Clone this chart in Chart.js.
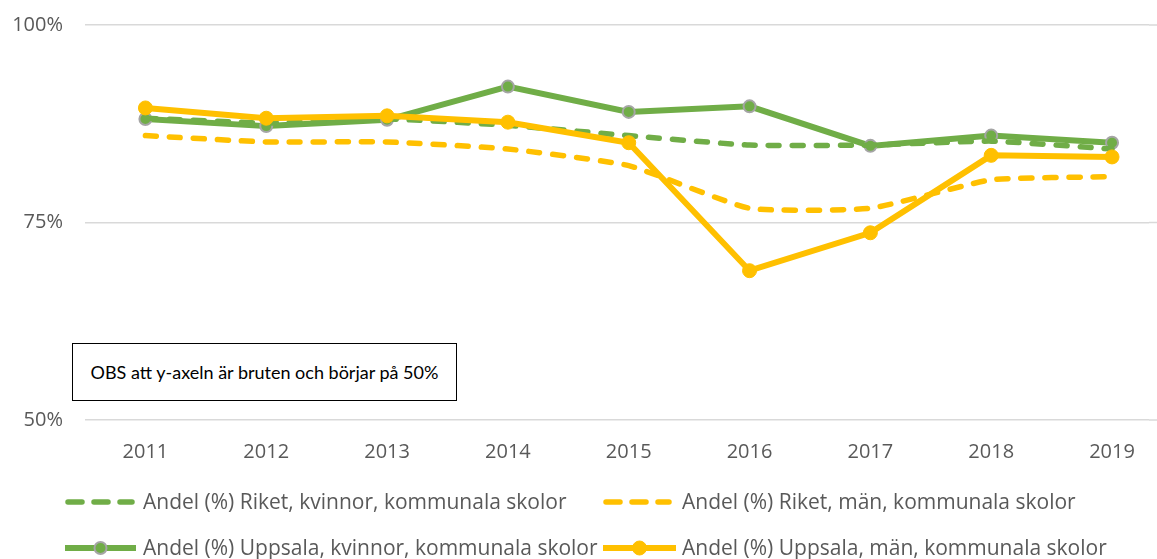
<!DOCTYPE html>
<html>
<head>
<meta charset="utf-8">
<script src="https://cdn.jsdelivr.net/npm/chart.js@4"></script>
<style>
  html, body { margin: 0; padding: 0; background: #fff; overflow: hidden; }
  #wrap { position: relative; width: 1157px; height: 559px; }
  #note {
    position: absolute; left: 72px; top: 343px; width: 383px; height: 56px;
    border: 1px solid #000; background: #fff; white-space: nowrap;
    font-family: Lato, sans-serif; font-size: 18px; color: #000;
    display: flex; align-items: center; justify-content: center;
  }
</style>
</head>
<body>
<div id="wrap">
  <canvas id="chart" width="1157" height="559"></canvas>
  <div id="note">OBS att y-axeln är bruten och börjar på 50%</div>
</div>
<script>
// years on the x axis
const years = [2011, 2012, 2013, 2014, 2015, 2016, 2017, 2018, 2019];

// share (%) per year
const riketKvinnor    = [88.2, 87.6, 88.1, 87.3, 86.0, 84.8, 84.8, 85.3, 84.3];
const riketMan        = [86.0, 85.2, 85.2, 84.3, 82.2, 76.8, 76.8, 80.4, 80.8];
const uppsalaKvinnor  = [88.1, 87.2, 88.0, 92.2, 89.0, 89.7, 84.7, 86.0, 85.1];
const uppsalaMan      = [89.5, 88.2, 88.5, 87.7, 85.1, 68.9, 73.7, 83.5, 83.3];

const yTicks = [50, 75, 100];

const seriesNames = [
    'Andel (%) Riket, kvinnor, kommunala skolor',
    'Andel (%) Riket, män, kommunala skolor',
    'Andel (%) Uppsala, kvinnor, kommunala skolor',
    'Andel (%) Uppsala, män, kommunala skolor'
];

const green = '#70ad47';
const yellow = '#ffc000';
const textColor = '#595959';
const gridColor = '#d9d9d9';
const fontFamily = '"Open Sans", sans-serif';

const toPoints = vals => vals.map((v, i) => ({ x: years[i], y: v }));

// carry the horizontal grid lines on to the right edge of the canvas
const gridToEdge = {
    id: 'gridToEdge',
    beforeDatasetsDraw(chart) {
        const ctx = chart.ctx;
        const y = chart.scales.y;
        ctx.save();
        ctx.strokeStyle = gridColor;
        ctx.lineWidth = 1.5;
        yTicks.forEach(v => {
            const py = y.getPixelForValue(v);
            ctx.beginPath();
            ctx.moveTo(chart.chartArea.right, py);
            ctx.lineTo(chart.width, py);
            ctx.stroke();
        });
        ctx.restore();
    }
};

// legend drawn like the Excel one: two columns, two rows
const excelLegend = {
    id: 'excelLegend',
    afterDraw(chart) {
        const ctx = chart.ctx;
        const slots = [
            { x: 65, y: 502, len: 67, tx: 143 },
            { x: 603, y: 502, len: 66, tx: 682 },
            { x: 65, y: 548, len: 71, tx: 143 },
            { x: 603, y: 548, len: 73, tx: 682 }
        ];
        chart.data.datasets.forEach((ds, i) => {
            const s = slots[i];
            ctx.save();
            ctx.strokeStyle = ds.borderColor;
            ctx.lineWidth = ds.borderWidth;
            ctx.lineCap = ds.borderDash.length ? 'round' : 'butt';
            ctx.setLineDash(ds.borderDash.length ? [14, 12] : []);
            ctx.beginPath();
            ctx.moveTo(s.x + (ds.borderDash.length ? 3 : 0), s.y);
            ctx.lineTo(s.x + s.len, s.y);
            ctx.stroke();
            ctx.setLineDash([]);
            if (ds.pointRadius > 0) {
                ctx.beginPath();
                ctx.arc(s.x + s.len / 2, s.y, ds.pointRadius, 0, Math.PI * 2);
                ctx.fillStyle = ds.pointBackgroundColor;
                ctx.fill();
                ctx.lineWidth = ds.pointBorderWidth;
                ctx.strokeStyle = ds.pointBorderColor;
                ctx.stroke();
            }
            ctx.fillStyle = textColor;
            ctx.font = '21px ' + fontFamily;
            ctx.textBaseline = 'middle';
            ctx.fillText(seriesNames[i], s.tx, s.y + 1);
            ctx.restore();
        });
    }
};

const ctx = document.getElementById('chart').getContext('2d');
new Chart(ctx, {
    type: 'line',
    data: {
        datasets: [
            {
                label: seriesNames[0],
                data: toPoints(riketKvinnor),
                borderColor: green,
                borderWidth: 5.5,
                borderDash: [11, 13],
                borderCapStyle: 'round',
                tension: 0.15,
                pointRadius: 0,
                order: 2
            },
            {
                label: seriesNames[1],
                data: toPoints(riketMan),
                borderColor: yellow,
                borderWidth: 5.5,
                borderDash: [11, 13],
                borderCapStyle: 'round',
                tension: 0.15,
                pointRadius: 0,
                order: 1
            },
            {
                label: seriesNames[2],
                data: toPoints(uppsalaKvinnor),
                borderColor: green,
                borderWidth: 6,
                borderDash: [],
                pointRadius: 6,
                pointBackgroundColor: green,
                pointBorderColor: '#a5a5a5',
                pointBorderWidth: 2,
                order: 3
            },
            {
                label: seriesNames[3],
                data: toPoints(uppsalaMan),
                borderColor: yellow,
                borderWidth: 6,
                borderDash: [],
                pointRadius: 7,
                pointBackgroundColor: yellow,
                pointBorderColor: yellow,
                pointBorderWidth: 1,
                order: 0
            }
        ]
    },
    options: {
        responsive: false,
        animation: false,
        layout: { padding: { left: 0, right: 0, top: 25, bottom: 100 } },
        plugins: {
            legend: { display: false },
            tooltip: { enabled: false }
        },
        scales: {
            x: {
                type: 'linear',
                min: 2010.5,
                max: 2019.306,
                grid: { display: false },
                border: { display: false },
                afterFit: scale => {
                    scale.height = 39;
                    scale.paddingLeft = 0;
                    scale.paddingRight = 0;
                },
                afterBuildTicks: scale => {
                    scale.ticks = years.map(v => ({ value: v }));
                },
                ticks: {
                    color: textColor,
                    font: { family: fontFamily, size: 20 },
                    padding: 12,
                    maxRotation: 0,
                    callback: v => String(v)
                }
            },
            y: {
                min: 50,
                max: 100,
                afterFit: scale => {
                    scale.width = 85;
                    scale.paddingTop = 0;
                    scale.paddingBottom = 0;
                },
                afterBuildTicks: scale => {
                    scale.ticks = yTicks.map(v => ({ value: v }));
                },
                grid: { color: gridColor, lineWidth: 1.5, drawTicks: false },
                border: { display: false },
                ticks: {
                    color: textColor,
                    font: { family: fontFamily, size: 20 },
                    padding: 22,
                    callback: v => v + '%'
                }
            }
        }
    },
    plugins: [gridToEdge, excelLegend]
});
</script>
</body>
</html>
